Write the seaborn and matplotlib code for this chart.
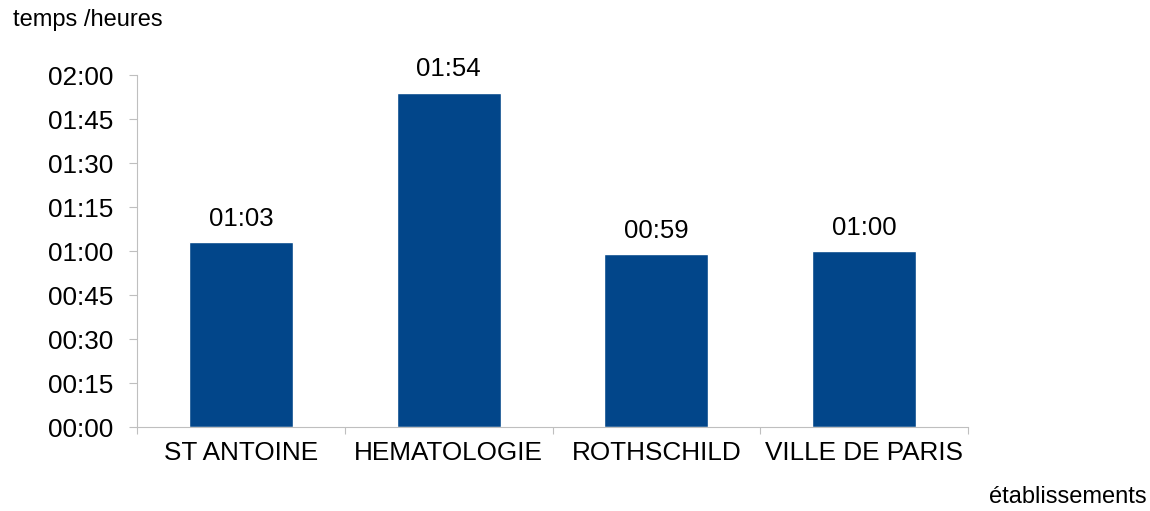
#! /usr/bin/env python3

import pandas as pd
import seaborn as sns
import matplotlib.pyplot as plt
from matplotlib.ticker import FuncFormatter, FixedLocator

etablissements = ["ST ANTOINE", "HEMATOLOGIE", "ROTHSCHILD", "VILLE DE PARIS"]
minutes = [63, 114, 59, 60]  # temps moyen en minutes

df = pd.DataFrame({"etablissement": etablissements, "minutes": minutes})


def hhmm(v, pos=None):
    v = int(round(v))
    return f"{v // 60:02d}:{v % 60:02d}"


sns.set_style("white")
plt.rcParams["font.family"] = ["Liberation Sans", "DejaVu Sans"]
plt.rcParams["text.color"] = "black"
plt.rcParams["xtick.labelcolor"] = "black"
plt.rcParams["ytick.labelcolor"] = "black"

fig = plt.figure(figsize=(11.5, 5.11), dpi=100)
ax = fig.add_axes([137 / 1150, 1 - 427 / 511, 831 / 1150, 352 / 511])

sns.barplot(
    data=df,
    x="etablissement",
    y="minutes",
    color="#02468A",
    saturation=1,
    width=0.5,
    ax=ax,
)

for c in ax.containers:
    ax.bar_label(c, labels=[hhmm(v) for v in minutes], padding=8, fontsize=18.5, color="black")

ax.set_xlim(-0.5, 3.5)
ax.set_ylim(0, 120)
ax.set_yticks(range(0, 121, 15))
ax.yaxis.set_major_formatter(FuncFormatter(hhmm))
ax.xaxis.set_minor_locator(FixedLocator([-0.5, 0.5, 1.5, 2.5, 3.5]))

ax.tick_params(axis="y", length=6, width=0.8, color="#BFBFBF", pad=11, labelsize=18.8, left=True,
               labelcolor="black")
ax.tick_params(axis="x", which="major", length=0, pad=10, labelsize=18.8, labelcolor="black")
ax.tick_params(axis="x", which="minor", length=5, width=0.8, color="#BFBFBF", bottom=True)

ax.set_xlabel("")
ax.set_ylabel("")
for s in ["top", "right"]:
    ax.spines[s].set_visible(False)
for s in ["left", "bottom"]:
    ax.spines[s].set_color("#BFBFBF")
    ax.spines[s].set_linewidth(0.8)

fig.text(13 / 1150, 1 - 20 / 511, "temps /heures", fontsize=17, va="center", ha="left")
fig.text(1147 / 1150, 1 - 497 / 511, "établissements", fontsize=17, va="center", ha="right")

plt.savefig("out.png", dpi=100)
